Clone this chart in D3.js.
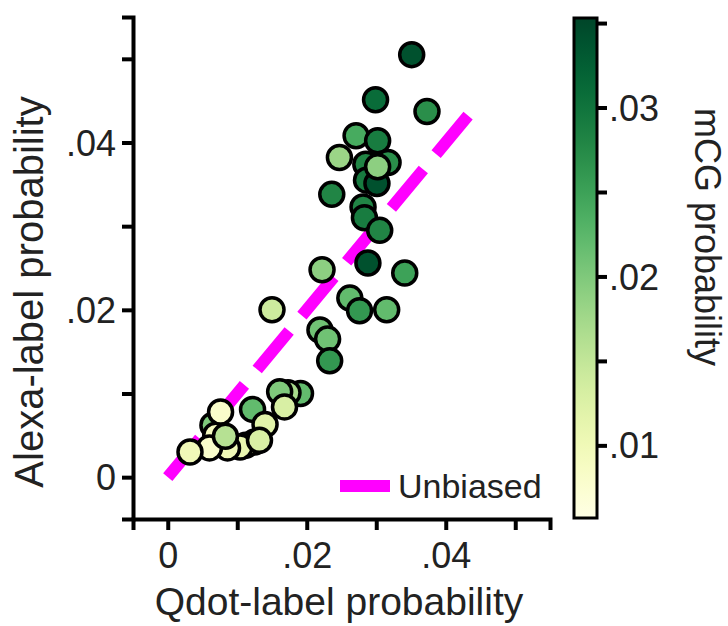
<!DOCTYPE html>
<html>
<head>
<meta charset="utf-8">
<script src="https://cdn.jsdelivr.net/npm/d3@7"></script>
<style>
  body { margin: 0; background: #fff; }
  svg { display: block; font-family: "Liberation Sans", Arial, sans-serif; }
</style>
</head>
<body>
<div id="chart"></div>
<script>
// x = Qdot-label probability, y = Alexa-label probability, c = mCG probability
const qdot  = [0.0351, 0.0299, 0.0373, 0.0271, 0.0302, 0.0247, 0.0317, 0.0285, 0.0286, 0.0301,
               0.0302, 0.0236, 0.0281, 0.0283, 0.0305, 0.0288, 0.0341, 0.0222, 0.0262, 0.0276,
               0.0315, 0.0150, 0.0219, 0.0230, 0.0233, 0.0191, 0.0173, 0.0161, 0.0168, 0.0122,
               0.0140, 0.0125, 0.0112, 0.0065, 0.0069, 0.0104, 0.0132, 0.0086, 0.0060, 0.0076,
               0.0083, 0.0032];
const alexa = [0.0505, 0.0451, 0.0437, 0.0408, 0.0402, 0.0382, 0.0376, 0.0374, 0.0355, 0.0351,
               0.0371, 0.0338, 0.0323, 0.0310, 0.0295, 0.0256, 0.0244, 0.0248, 0.0214, 0.0199,
               0.0200, 0.0200, 0.0176, 0.0165, 0.0139, 0.0100, 0.0101, 0.0102, 0.0084, 0.0081,
               0.0063, 0.0042, 0.0038, 0.0062, 0.0050, 0.0036, 0.0044, 0.0035, 0.0035, 0.0078,
               0.0049, 0.0030];
const mcg   = [0.034, 0.031, 0.027, 0.024, 0.029, 0.018, 0.027, 0.028, 0.029, 0.034,
               0.019, 0.028, 0.028, 0.029, 0.028, 0.034, 0.025, 0.019, 0.022, 0.026,
               0.022, 0.014, 0.021, 0.021, 0.026, 0.022, 0.017, 0.020, 0.013, 0.022,
               0.012, 0.013, 0.012, 0.020, 0.009, 0.011, 0.013, 0.010, 0.008, 0.008,
               0.016, 0.010];

const xTicks = [0, 0.01, 0.02, 0.03, 0.04, 0.05];
const yTicks = [0, 0.01, 0.02, 0.03, 0.04, 0.05];
const cTicks = [0.01, 0.015, 0.02, 0.025, 0.03, 0.035];
const unbiased = [0, 0.0435];
const legendLabel = "Unbiased";

const width = 728, height = 626;
const fmt = d => d === 0 ? "0" : d3.format(".2f")(d).replace(/^0/, "");

const svg = d3.select("#chart").append("svg")
    .attr("width", width)
    .attr("height", height);

const x = d3.scaleLinear().domain([-0.005, 0.055]).range([133, 550]);
const y = d3.scaleLinear().domain([-0.005, 0.055]).range([519, 17]);
const color = d3.scaleSequential(d3.interpolateYlGn).domain([0.0057, 0.0353]);

// axes
const xAxis = svg.append("g")
    .attr("transform", "translate(0,519)")
    .call(d3.axisBottom(x).tickValues(xTicks).tickSizeOuter(0).tickSize(11).tickPadding(7)
        .tickFormat((d, i) => i % 2 === 0 ? fmt(d) : ""));
const yAxis = svg.append("g")
    .attr("transform", "translate(133,0)")
    .call(d3.axisLeft(y).tickValues(yTicks).tickSizeOuter(0).tickSize(11).tickPadding(6)
        .tickFormat((d, i) => i % 2 === 0 ? fmt(d) : ""));

[xAxis, yAxis].forEach(g => {
    g.select(".domain").attr("stroke", "#000").attr("stroke-width", 4);
    g.selectAll(".tick line").attr("stroke", "#000").attr("stroke-width", 4);
    g.selectAll(".tick text").attr("fill", "#222").style("font-size", "36px");
});
xAxis.selectAll(".tick text").attr("dy", "0.85em");
yAxis.selectAll(".tick text").attr("dy", "0.35em");

// unbiased line
svg.append("line")
    .attr("x1", x(unbiased[0])).attr("y1", y(unbiased[0]))
    .attr("x2", x(unbiased[1])).attr("y2", y(unbiased[1]))
    .attr("stroke", "#ff00ff")
    .attr("stroke-width", 12)
    .attr("stroke-dasharray", "50,20");

// points
svg.append("g").selectAll("circle")
    .data(qdot.map((d, i) => ({ q: d, a: alexa[i], c: mcg[i] })))
    .enter()
    .append("circle")
    .attr("cx", d => x(d.q))
    .attr("cy", d => y(d.a))
    .attr("r", 12)
    .attr("fill", d => color(d.c))
    .attr("stroke", "#000")
    .attr("stroke-width", 3.5);

// legend
svg.append("line")
    .attr("x1", 340).attr("x2", 390)
    .attr("y1", 486).attr("y2", 486)
    .attr("stroke", "#ff00ff")
    .attr("stroke-width", 12);
svg.append("text")
    .attr("x", 398).attr("y", 498)
    .attr("fill", "#222")
    .style("font-size", "34px")
    .text(legendLabel);

// axis labels
svg.append("text")
    .attr("x", 339).attr("y", 615)
    .attr("text-anchor", "middle")
    .attr("fill", "#222")
    .style("font-size", "39px")
    .text("Qdot-label probability");
svg.append("text")
    .attr("transform", "translate(43,292) rotate(-90)")
    .attr("text-anchor", "middle")
    .attr("fill", "#222")
    .style("font-size", "40px")
    .text("Alexa-label probability");

// colorbar
const cb = d3.scaleLinear().domain(color.domain()).range([518, 18]);
const grad = svg.append("defs").append("linearGradient")
    .attr("id", "cbgrad")
    .attr("x1", 0).attr("y1", 1).attr("x2", 0).attr("y2", 0);
d3.range(0, 1.0001, 0.05).forEach(t => {
    grad.append("stop")
        .attr("offset", t)
        .attr("stop-color", color(color.domain()[0] + t * (color.domain()[1] - color.domain()[0])));
});
svg.append("rect")
    .attr("x", 574).attr("y", 18)
    .attr("width", 23).attr("height", 500)
    .attr("fill", "url(#cbgrad)")
    .attr("stroke", "#000")
    .attr("stroke-width", 3);
const cAxis = svg.append("g")
    .attr("transform", "translate(597,0)")
    .call(d3.axisRight(cb).tickValues(cTicks).tickSizeOuter(0).tickSize(10).tickPadding(2)
        .tickFormat((d, i) => i % 2 === 0 ? fmt(d) : ""));
cAxis.select(".domain").remove();
cAxis.selectAll(".tick line").attr("stroke", "#000").attr("stroke-width", 4);
cAxis.selectAll(".tick text").attr("fill", "#222").attr("dy", "0.35em").style("font-size", "36px");

svg.append("text")
    .attr("transform", "translate(695,237) rotate(90)")
    .attr("text-anchor", "middle")
    .attr("fill", "#222")
    .style("font-size", "36px")
    .text("mCG probability");
</script>
</body>
</html>
